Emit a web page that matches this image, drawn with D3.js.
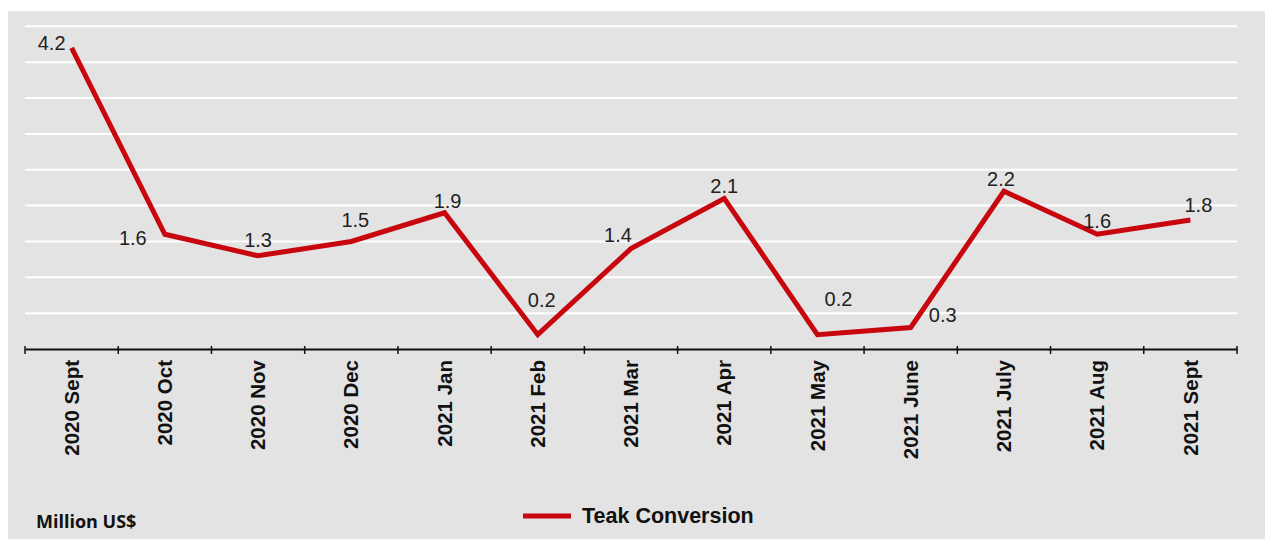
<!DOCTYPE html>
<html>
<head>
<meta charset="utf-8">
<script src="https://cdn.jsdelivr.net/npm/d3@7"></script>
<style>
  html, body { margin: 0; padding: 0; background: #ffffff; }
  svg { display: block; }
</style>
</head>
<body>
<svg id="chart" width="1265" height="539"></svg>
<script>
// ---- data ----
const categories = ["2020 Sept", "2020 Oct", "2020 Nov", "2020 Dec", "2021 Jan", "2021 Feb",
  "2021 Mar", "2021 Apr", "2021 May", "2021 June", "2021 July", "2021 Aug", "2021 Sept"];
const teakConversion = [4.2, 1.6, 1.3, 1.5, 1.9, 0.2, 1.4, 2.1, 0.2, 0.3, 2.2, 1.6, 1.8];
const gridValues = [0.5, 1.0, 1.5, 2.0, 2.5, 3.0, 3.5, 4.0, 4.5];
const seriesName = "Teak Conversion";
const unitLabel = "Million US$";

// ---- layout ----
const W = 1265, H = 539;
const plot = { left: 25, right: 1237, top: 11, bottom: 349 };
const svg = d3.select("#chart");

svg.append("rect").attr("x", 0).attr("y", 0).attr("width", W).attr("height", H).attr("fill", "#ffffff");
svg.append("rect").attr("x", 8).attr("y", 11).attr("width", W - 8).attr("height", H - 11).attr("fill", "#e3e3e3");

const x = d3.scaleBand().domain(categories).range([plot.left, plot.right]).padding(0);
const y = d3.scaleLinear().domain([0, 4.5]).range([plot.bottom, plot.bottom - 4.5 * 71.7]);

// gridlines
svg.append("g").selectAll("line").data(gridValues).join("line")
  .attr("x1", plot.left).attr("x2", plot.right)
  .attr("y1", d => y(d)).attr("y2", d => y(d))
  .attr("stroke", "#ffffff").attr("stroke-width", 2);

// x axis
const xAxis = d3.axisBottom(x).tickSize(0).tickFormat(d => d);
const gx = svg.append("g").attr("transform", `translate(0,${plot.bottom})`).call(xAxis);
gx.select(".domain").attr("stroke", "#111").attr("stroke-width", 2);
gx.selectAll(".tick text")
  .attr("transform", "rotate(-90)")
  .attr("x", -11).attr("y", 0).attr("dy", "0.35em")
  .attr("text-anchor", "end")
  .attr("font-family", "Liberation Sans, Arial, sans-serif")
  .attr("font-weight", "bold").attr("font-size", 20.5).attr("fill", "#111");

// boundary tick marks
const bounds = categories.map(c => x(c)).concat([x(categories[categories.length - 1]) + x.bandwidth()]);
svg.append("g").selectAll("line").data(bounds).join("line")
  .attr("x1", d => d).attr("x2", d => d)
  .attr("y1", plot.bottom - 3).attr("y2", plot.bottom + 5)
  .attr("stroke", "#111").attr("stroke-width", 1.5);

// line
const cx = (d, i) => x(categories[i]) + x.bandwidth() / 2;
const line = d3.line().x((d, i) => cx(d, i)).y(d => y(d));
svg.append("path").datum(teakConversion)
  .attr("d", line).attr("fill", "none")
  .attr("stroke", "#c8060e").attr("stroke-width", 5)
  .attr("stroke-linejoin", "miter");

// value labels (offsets relative to point)
const labelOffsets = [[-20, 2], [-32, 11], [0, -9], [4, -14], [3, -5], [4, -28], [-13, -7],
  [0, -5], [21, -29], [32, -5], [-3, -5], [0, -6], [8, -8]];
svg.append("g").selectAll("text").data(teakConversion).join("text")
  .attr("x", (d, i) => cx(d, i) + labelOffsets[i][0])
  .attr("y", (d, i) => y(d) + labelOffsets[i][1])
  .attr("text-anchor", "middle")
  .attr("font-family", "Liberation Sans, Arial, sans-serif")
  .attr("font-size", 20).attr("fill", "#222")
  .text(d => d.toFixed(1));

// legend
svg.append("line").attr("x1", 523).attr("x2", 571).attr("y1", 516).attr("y2", 516)
  .attr("stroke", "#c8060e").attr("stroke-width", 5);
svg.append("text").attr("x", 582).attr("y", 523)
  .attr("font-family", "Liberation Sans, Arial, sans-serif")
  .attr("font-weight", "bold").attr("font-size", 21.5).attr("fill", "#111")
  .text(seriesName);

// unit label
svg.append("text").attr("x", 36).attr("y", 528)
  .attr("font-family", "Open Sans, Liberation Sans, sans-serif")
  .attr("font-weight", "bold").attr("font-size", 18).attr("fill", "#111")
  .text(unitLabel);
</script>
</body>
</html>
